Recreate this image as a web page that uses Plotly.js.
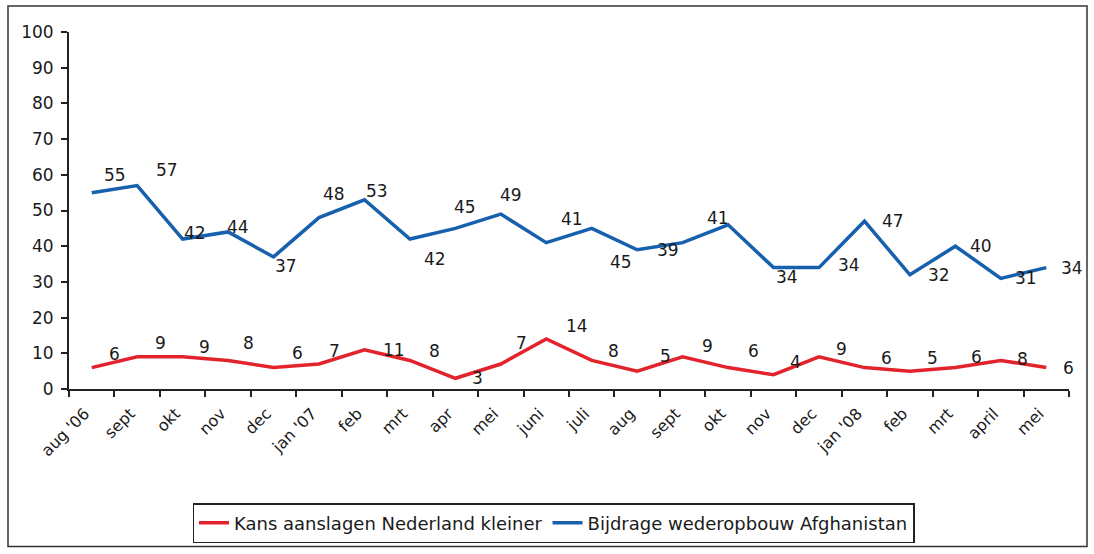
<!DOCTYPE html>
<html>
<head>
<meta charset="utf-8">
<script src="https://cdn.plot.ly/plotly-3.0.1.min.js"></script>
<style>
  html, body { margin: 0; padding: 0; background: #fff; }
  #chart { width: 1094px; height: 554px; }
</style>
</head>
<body>
<div id="chart"></div>
<script>
// ---- data ----
const months = ["aug '06", "sept", "okt", "nov", "dec", "jan '07", "feb", "mrt", "apr", "mei", "juni",
                "juli", "aug", "sept", "okt", "nov", "dec", "jan '08", "feb", "mrt", "april", "mei"];
const kansValues = [6, 9, 9, 8, 6, 7, 11, 8, 3, 7, 14, 8, 5, 9, 6, 4, 9, 6, 5, 6, 8, 6];
const kansLabels = ["6", "9", "9", "8", "6", "7", "11", "8", "3", "7", "14", "8", "5", "9", "6", "4", "9", "6", "5", "6", "8", "6"];
const bijdrageValues = [55, 57, 42, 44, 37, 48, 53, 42, 45, 49, 41, 45, 39, 41, 46, 34, 34, 47, 32, 40, 31, 34];
const bijdrageLabels = ["55", "57", "42", "44", "37", "48", "53", "42", "45", "49", "41", "45", "39", "41", "", "34", "34", "47", "32", "40", "31", "34"];
const seriesNames = ["Kans aanslagen Nederland kleiner", "Bijdrage wederopbouw Afghanistan"];

// ---- label placement (style, pixels) ----
const kansDx = [23, 23, 22, 20, 24, 15, 30, 25, 22, 21, 31, 22, 28, 25, 25, 22, 22, 22, 23, 21, 22, 22];
const kansDy = [14, 14, 10, 17, 15, 13, 0, 9, 0, 21, 13, 9, 15, 11, 17, 13, 8, 10, 13, 11, 1, 0];
const bijDx = [23, 30, 12, 10, 12, 15, 13, 25, 10, 10, 26, 29, 31, 35, 0, 13, 30, 29, 29, 26, 25, 26];
const bijDy = [18, 16, 6, 5, -9, 24, 9, -20, 21, 19, 24, -34, 0, 25, 0, -9, 3, 0, 0, 0, 0, 0];

const RED = '#e3232c';
const BLUE = '#1760ad';
const FONT = '"DejaVu Sans", Arial, sans-serif';

const xIdx = months.map((_, i) => i);

const traces = [
  { x: xIdx, y: kansValues, name: seriesNames[0], type: 'scatter', mode: 'lines',
    line: { color: RED, width: 3.5 }, hoverinfo: 'skip' },
  { x: xIdx, y: bijdrageValues, name: seriesNames[1], type: 'scatter', mode: 'lines',
    line: { color: BLUE, width: 3.5 }, hoverinfo: 'skip' }
];

const annotations = [];
function addLabels(vals, labels, dx, dy) {
  vals.forEach((v, i) => {
    if (!labels[i]) return;
    annotations.push({
      x: xIdx[i], y: v, xref: 'x', yref: 'y', text: labels[i], showarrow: false,
      xshift: dx[i], yshift: dy[i], font: { family: FONT, size: 17, color: '#1a1a1a' }
    });
  });
}
addLabels(kansValues, kansLabels, kansDx, kansDy);
addLabels(bijdrageValues, bijdrageLabels, bijDx, bijDy);

const layout = {
  width: 1094, height: 554,
  margin: { l: 69, r: 25, t: 32, b: 164 },
  paper_bgcolor: '#fff', plot_bgcolor: '#fff',
  font: { family: FONT, size: 17, color: '#1a1a1a' },
  showlegend: true,
  xaxis: {
    range: [-0.5, 21.5], tickmode: 'array', tickvals: xIdx, ticktext: months,
    tickangle: -45, ticks: 'outside', ticklen: 7, tickcolor: 'rgba(0,0,0,0)',
    ticklabelshift: -7,
    tickfont: { family: FONT, size: 16, color: '#1a1a1a' },
    showline: true, linecolor: '#222', linewidth: 2, showgrid: false, zeroline: false,
    minor: { tick0: -0.5, dtick: 1, ticks: 'outside', ticklen: 6, tickcolor: '#222', tickwidth: 2, showgrid: false },
    fixedrange: true
  },
  yaxis: {
    range: [0, 100], dtick: 10, ticks: 'outside', ticklen: 6, tickcolor: '#222', tickwidth: 2,
    ticklabelstandoff: 4,
    tickfont: { family: FONT, size: 17, color: '#1a1a1a' },
    showline: true, linecolor: '#222', linewidth: 2, showgrid: false, zeroline: false,
    fixedrange: true
  },
  legend: {
    orientation: 'h', x: 0.4845, xanchor: 'center', y: -0.316, yanchor: 'top',
    bordercolor: '#222', borderwidth: 1.5, bgcolor: '#fff',
    font: { family: FONT, size: 18, color: '#1a1a1a' },
    traceorder: 'normal'
  },
  shapes: [{
    type: 'rect', xref: 'paper', yref: 'paper',
    x0: -0.061, x1: 1.018, y0: -0.441, y1: 1.0726,
    line: { color: '#333', width: 1.5 }, fillcolor: 'rgba(0,0,0,0)'
  }],
  annotations: annotations
};

Plotly.newPlot('chart', traces, layout, { displayModeBar: false, staticPlot: true });
</script>
</body>
</html>
